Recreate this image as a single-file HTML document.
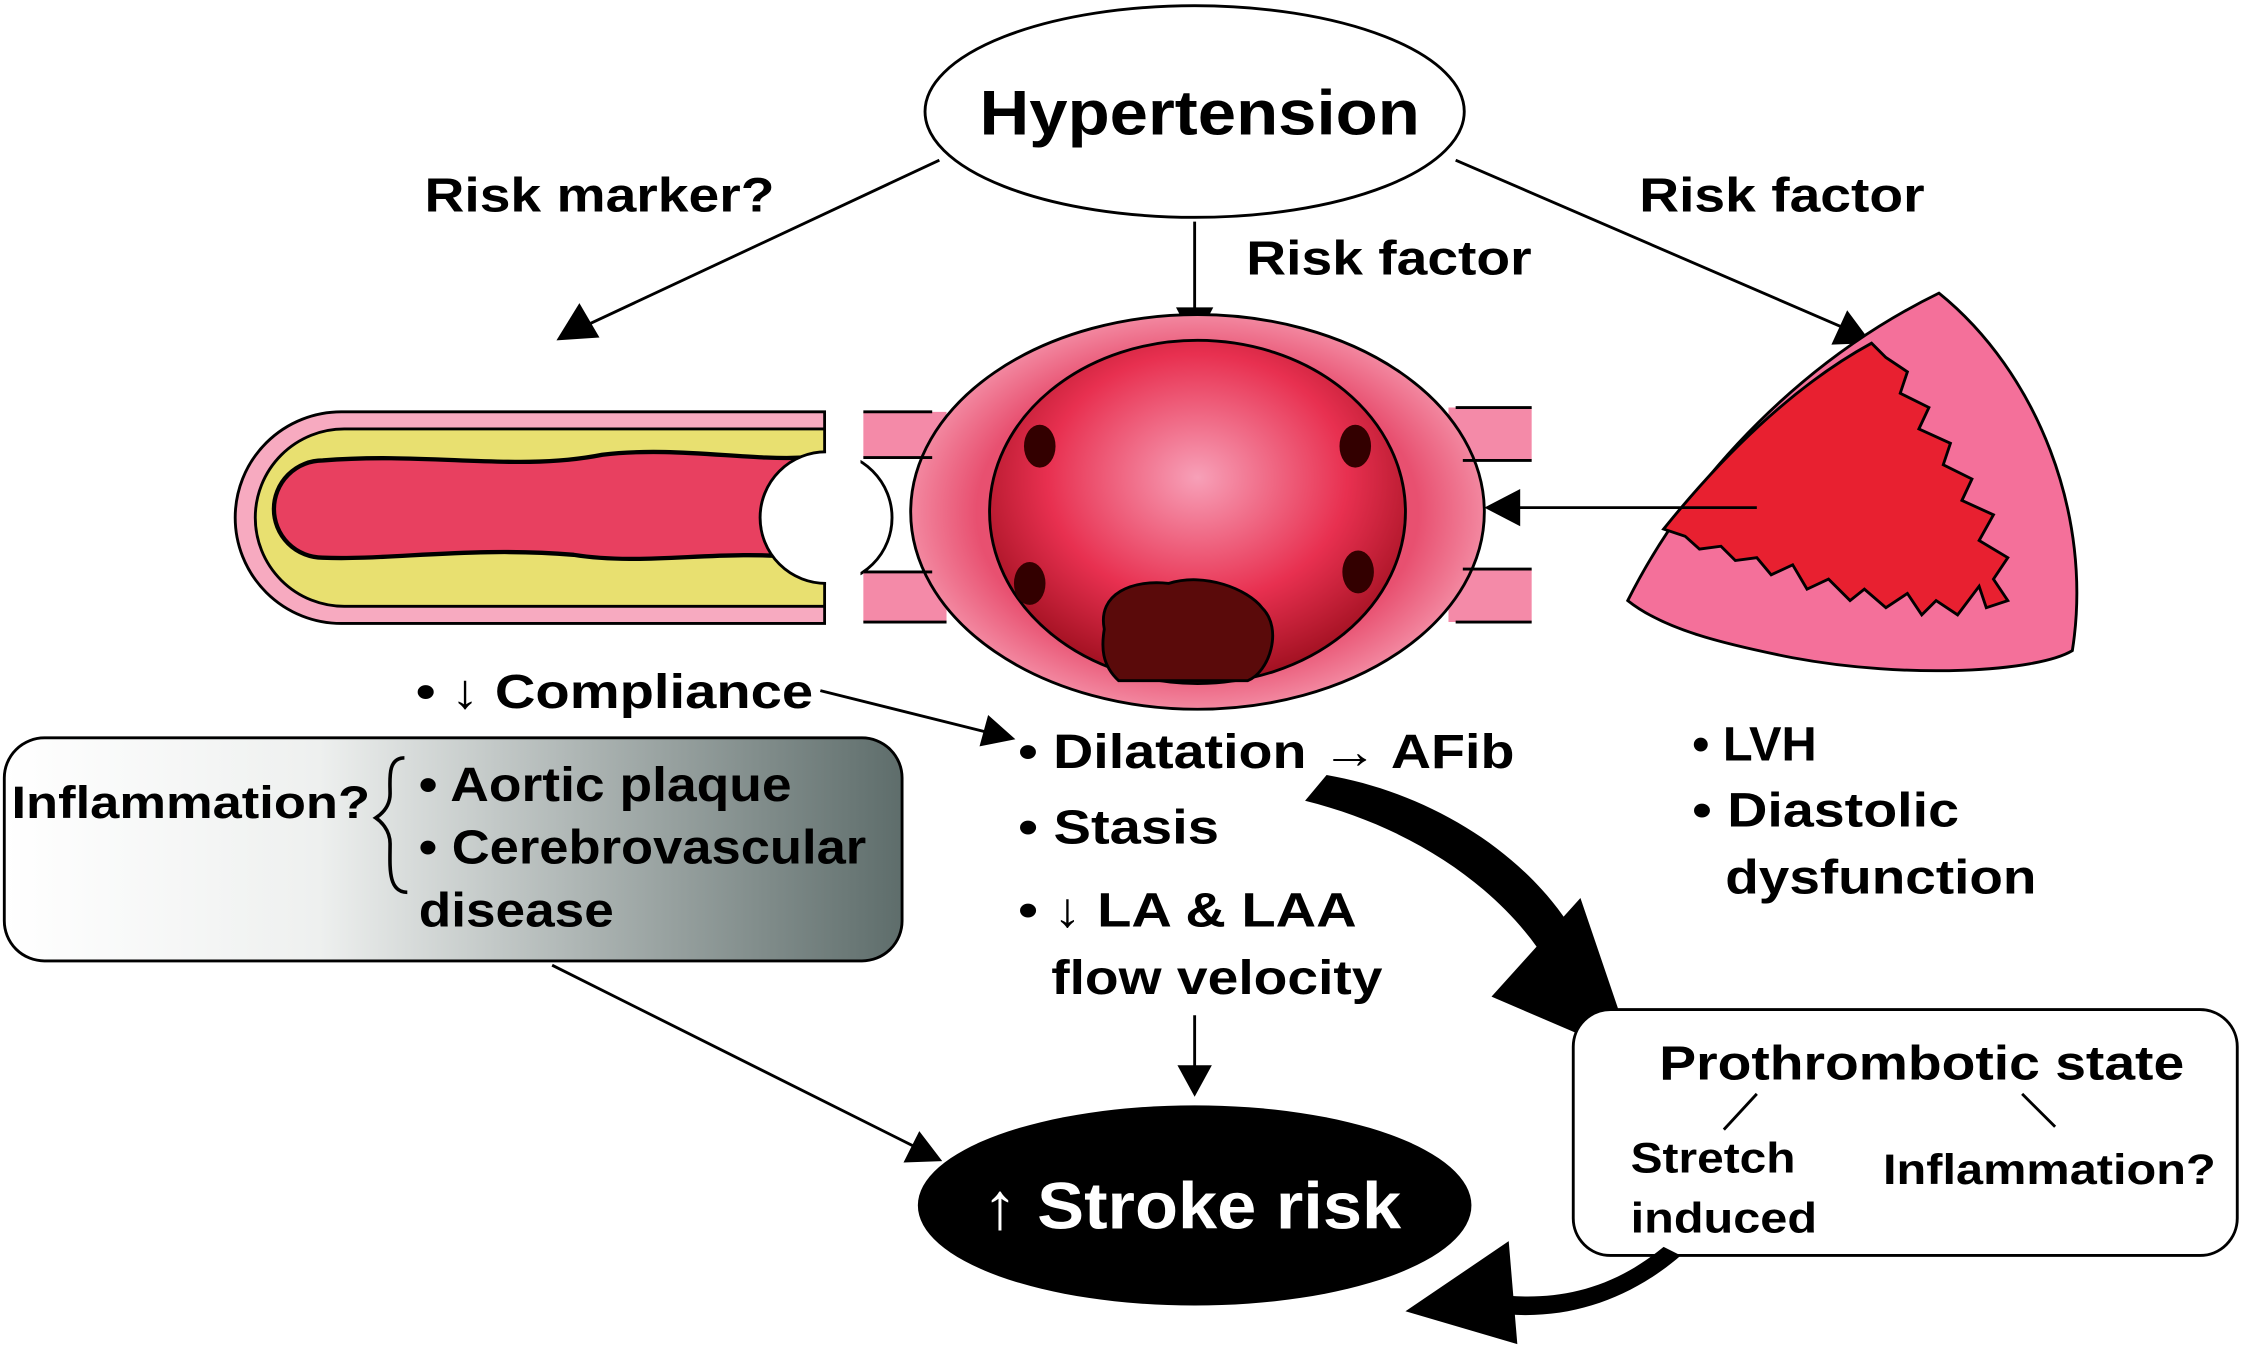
<!DOCTYPE html>
<html><head><meta charset="utf-8"><style>
html,body{margin:0;padding:0;background:#fff;}
svg{display:block;}
text{font-family:"Liberation Sans",sans-serif;font-weight:bold;fill:#000;}
</style></head><body>
<svg width="2243" height="1347" viewBox="0 0 1564 942" preserveAspectRatio="none" xmlns="http://www.w3.org/2000/svg">
<defs>
<linearGradient id="box" x1="0" x2="1" y1="0" y2="0">
<stop offset="0" stop-color="#fff"/><stop offset="0.35" stop-color="#eef0ef"/><stop offset="1" stop-color="#5e6d6b"/>
</linearGradient>
<radialGradient id="atr" cx="0.5" cy="0.4" r="0.6">
<stop offset="0" stop-color="#f7a0b8"/><stop offset="0.6" stop-color="#e83050"/><stop offset="1" stop-color="#a01020"/>
</radialGradient>
<radialGradient id="outer" cx="0.5" cy="0.5" r="0.55">
<stop offset="0.7" stop-color="#e85070"/><stop offset="1" stop-color="#f7a0b5"/>
</radialGradient>
</defs>

<ellipse cx="833" cy="78" rx="188" ry="74" fill="#fff" stroke="#000" stroke-width="2"/>
<text x="683" y="94" font-size="44" textLength="307" lengthAdjust="spacingAndGlyphs">Hypertension</text>
<text x="296" y="148" font-size="34" textLength="244" lengthAdjust="spacingAndGlyphs">Risk marker?</text>
<text x="869" y="192" font-size="34" textLength="199" lengthAdjust="spacingAndGlyphs">Risk factor</text>
<text x="1143" y="148" font-size="34" textLength="199" lengthAdjust="spacingAndGlyphs">Risk factor</text>

<line x1="655" y1="112" x2="410" y2="227" stroke="#000" stroke-width="2"/>
<polygon points="388,238 404,212 418,236" fill="#000"/>
<line x1="833" y1="155" x2="833" y2="220" stroke="#000" stroke-width="2"/>
<polygon points="820,215 846,215 833,240" fill="#000"/>
<line x1="1015" y1="112" x2="1285" y2="229" stroke="#000" stroke-width="2"/>
<polygon points="1305,240 1277,241 1288,217" fill="#000"/>

<path d="M238,288 L575,288 L575,436 L238,436 A74,74 0 0 1 238,288 Z" fill="#f7aac0" stroke="#000" stroke-width="2"/>
<path d="M240,300 L575,300 L575,424 L240,424 A62,62 0 0 1 240,300 Z" fill="#e8e070" stroke="#000" stroke-width="2"/>
<path d="M225,322 C300,316 360,330 420,318 C470,312 520,322 560,320 L560,390 C500,384 450,396 400,388 C330,382 270,392 225,390 A34,34 0 0 1 225,322 Z" fill="#e84060" stroke="#000" stroke-width="3"/>
<circle cx="576" cy="362" r="46" fill="#fff" stroke="#000" stroke-width="2"/>
<rect x="576" y="280" width="24" height="165" fill="#fff"/>

<path d="M602,288 L660,288 L660,320 L602,320 Z M602,400 L660,400 L660,435 L602,435 Z M1010,285 L1068,285 L1068,322 L1010,322 Z M1010,398 L1068,398 L1068,435 L1010,435 Z" fill="#f48aa8"/>
<ellipse cx="835" cy="358" rx="200" ry="138" fill="url(#outer)" stroke="#000" stroke-width="2"/>
<path d="M602,288 L650,288 M602,320 L650,320 M602,400 L650,400 M602,435 L660,435 M1068,285 L1015,285 M1068,322 L1020,322 M1068,398 L1020,398 M1068,435 L1015,435" stroke="#000" stroke-width="2"/>
<ellipse cx="835" cy="358" rx="145" ry="120" fill="url(#atr)" stroke="#000" stroke-width="2"/>
<ellipse cx="725" cy="312" rx="11" ry="15" fill="#300"/>
<ellipse cx="945" cy="312" rx="11" ry="15" fill="#300"/>
<ellipse cx="718" cy="408" rx="11" ry="15" fill="#300"/>
<ellipse cx="947" cy="400" rx="11" ry="15" fill="#300"/>
<path d="M770,440 C765,415 790,405 815,408 C840,400 870,412 880,425 C895,440 885,470 870,476 L780,476 C768,465 768,452 770,440 Z" fill="#5a0a0a" stroke="#000" stroke-width="2"/>

<path d="M1135,420 C1180,330 1260,250 1352,205 C1420,260 1460,360 1445,455 C1420,470 1330,475 1250,460 C1200,450 1160,440 1135,420 Z" fill="#f4709a" stroke="#000" stroke-width="2"/>
<path d="M1160,370 C1200,320 1250,270 1305,240 L1315,250 1330,260 1325,275 1345,285 1338,300 1360,310 1355,325 1375,335 1368,350 1390,360 1380,378 1400,390 1390,405 1400,420 1385,425 1380,410 1365,430 1350,420 1340,430 1330,415 1315,425 1300,412 1290,420 1275,405 1260,412 1250,395 1235,402 1225,390 1210,392 1200,382 1185,384 1175,375 Z" fill="#e82030" stroke="#000" stroke-width="2"/>
<line x1="1225" y1="355" x2="1055" y2="355" stroke="#000" stroke-width="2"/>
<polygon points="1035,355 1060,342 1060,368" fill="#000"/>

<text x="290" y="495" font-size="34" textLength="277" lengthAdjust="spacingAndGlyphs">• ↓ Compliance</text>
<line x1="572" y1="483" x2="688" y2="512" stroke="#000" stroke-width="2"/>
<polygon points="708,517 683,522 689,500" fill="#000"/>

<rect x="3" y="516" width="626" height="156" rx="28" fill="url(#box)" stroke="#000" stroke-width="2"/>
<text x="8" y="572" font-size="32" textLength="250" lengthAdjust="spacingAndGlyphs">Inflammation?</text>
<path d="M282,530 C270,530 272,545 272,555 C272,565 265,570 262,572 C265,574 272,580 272,590 C272,605 270,624 284,624" fill="none" stroke="#000" stroke-width="2.5"/>
<text x="292" y="560" font-size="34" textLength="260" lengthAdjust="spacingAndGlyphs">• Aortic plaque</text>
<text x="292" y="604" font-size="34" textLength="312" lengthAdjust="spacingAndGlyphs">• Cerebrovascular</text>
<text x="292" y="648" font-size="34" textLength="136" lengthAdjust="spacingAndGlyphs">disease</text>

<text x="710" y="537" font-size="34" textLength="346" lengthAdjust="spacingAndGlyphs">• Dilatation → AFib</text>
<text x="710" y="590" font-size="34" textLength="140" lengthAdjust="spacingAndGlyphs">• Stasis</text>
<text x="710" y="648" font-size="34" textLength="236" lengthAdjust="spacingAndGlyphs">• ↓ LA &amp; LAA</text>
<text x="733" y="695" font-size="34" textLength="231" lengthAdjust="spacingAndGlyphs">flow velocity</text>

<text x="1180" y="532" font-size="34">• LVH</text>
<text x="1180" y="578" font-size="34" textLength="186" lengthAdjust="spacingAndGlyphs">• Diastolic</text>
<text x="1203" y="625" font-size="34" textLength="217" lengthAdjust="spacingAndGlyphs">dysfunction</text>

<line x1="833" y1="710" x2="833" y2="748" stroke="#000" stroke-width="2"/>
<polygon points="821,745 845,745 833,767" fill="#000"/>
<line x1="385" y1="675" x2="638" y2="802" stroke="#000" stroke-width="2"/>
<polygon points="657,812 630,813 641,791" fill="#000"/>

<ellipse cx="833" cy="843" rx="193" ry="70" fill="#000"/>
<text x="685" y="859" font-size="46" textLength="292" lengthAdjust="spacingAndGlyphs" style="fill:#fff">↑ Stroke risk</text>

<path d="M910,560 C990,580 1050,625 1080,675 L1102,660 C1070,600 1000,555 925,542 Z" fill="#000"/>
<path d="M1040,697 L1102,628 L1140,740 Z" fill="#000"/>

<rect x="1097" y="706" width="463" height="172" rx="26" fill="#fff" stroke="#000" stroke-width="2"/>
<text x="1157" y="755" font-size="34" textLength="366" lengthAdjust="spacingAndGlyphs">Prothrombotic state</text>
<line x1="1225" y1="765" x2="1202" y2="790" stroke="#000" stroke-width="2"/>
<line x1="1410" y1="765" x2="1433" y2="788" stroke="#000" stroke-width="2"/>
<text x="1137" y="820" font-size="30" textLength="115" lengthAdjust="spacingAndGlyphs">Stretch</text>
<text x="1137" y="862" font-size="30" textLength="130" lengthAdjust="spacingAndGlyphs">induced</text>
<text x="1313" y="828" font-size="30" textLength="232" lengthAdjust="spacingAndGlyphs">Inflammation?</text>

<path d="M1160,872 C1120,905 1080,910 1040,905 L1040,918 C1090,925 1135,910 1172,878 Z" fill="#000"/>
<path d="M1052,868 L980,917 L1058,940 Z" fill="#000"/>
</svg>
</body></html>
